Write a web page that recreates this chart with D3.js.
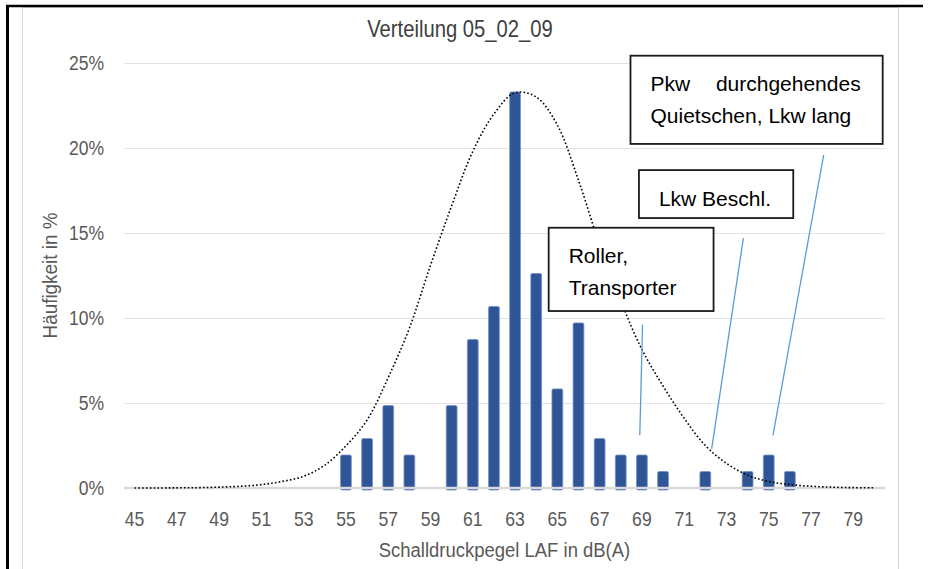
<!DOCTYPE html>
<html>
<head>
<meta charset="utf-8">
<script src="https://cdn.jsdelivr.net/npm/d3@7"></script>
<style>
  html, body { margin: 0; padding: 0; background: #fff; }
  svg { display: block; }
</style>
</head>
<body>
<svg id="chart" width="928" height="569"></svg>
<script>
// ---- DATA ----
const categories = d3.range(45, 81);            // 45 .. 80 dB(A)
const barLevels  = [55, 56, 57, 58, 60, 61, 62, 63, 64, 65, 66, 67, 68, 69, 70, 72, 74, 75, 76];
const barValues  = [1.94, 2.91, 4.85, 1.94, 4.85, 8.74, 10.68, 23.30, 12.62, 5.83, 9.71, 2.91, 1.94, 1.94, 0.97, 0.97, 0.97, 1.94, 0.97];
const curveLevels = d3.range(45, 81);
const curveValues = [0.0, 0.0, 0.01, 0.02, 0.05, 0.1, 0.2, 0.39, 0.69, 1.35, 2.48, 4.0, 6.5, 9.4, 13.1, 16.6, 19.8, 22.0, 23.25, 23.0, 21.35, 18.1, 14.3, 11.0, 8.15, 6.0, 4.1, 2.5, 1.45, 0.76, 0.38, 0.2, 0.1, 0.05, 0.02, 0.01];
const xTickLabels = [45, 47, 49, 51, 53, 55, 57, 59, 61, 63, 65, 67, 69, 71, 73, 75, 77, 79];
const yTickValues = [0, 5, 10, 15, 20, 25];
const titleText = "Verteilung 05_02_09";
const xTitle = "Schalldruckpegel LAF in dB(A)";
const yTitle = "Häufigkeit in %";
// annotation texts with anchors in data units (level, percent)
const noteTexts   = [["Pkw", "durchgehendes", "Quietschen, Lkw lang"], ["Lkw Beschl."], ["Roller,", "Transporter"]];
const noteBoxes   = [[68.46, 25.43, 80.39, 20.24], [68.86, 18.7, 76.16, 15.88], [64.59, 15.31, 72.39, 10.41]];
const noteLeaders = [[[77.6, 19.6], [75.2, 3.1]], [[73.8, 14.7], [72.3, 2.3]], [[69.03, 9.6], [68.9, 3.1]]];

// ---- LAYOUT ----
const W = 928, H = 569;
const pLeft = 124, pRight = 885, pTop = 63, pBottom = 488;
const svg = d3.select("#chart");
const axisFont = "'Liberation Sans', Arial, sans-serif";
const noteFont = "'Liberation Sans', Arial, sans-serif";

const x = d3.scaleBand().domain(categories).range([pLeft, pRight]).paddingInner(0.49).paddingOuter(0.245);
const xl = d3.scaleLinear().domain([44.5, 80.5]).range([pLeft, pRight]);   // continuous level position
const y = d3.scaleLinear().domain([0, 25]).range([pBottom, pTop]);

// frame
svg.append("rect").attr("x", 22.5).attr("y", 7.5).attr("width", 876).attr("height", 580)
  .attr("fill", "#fff").attr("stroke", "#d9d9d9").attr("stroke-width", 1);
svg.append("line").attr("x1", 6).attr("x2", 923).attr("y1", 6).attr("y2", 6)
  .attr("stroke", "#000").attr("stroke-width", 2.5);
svg.append("line").attr("x1", 7.5).attr("x2", 7.5).attr("y1", 5).attr("y2", H)
  .attr("stroke", "#000").attr("stroke-width", 3);

// gridlines
svg.append("g").selectAll("line").data(yTickValues.filter(d => d > 0)).join("line")
  .attr("x1", pLeft).attr("x2", pRight)
  .attr("y1", d => Math.round(y(d)) + 0.5).attr("y2", d => Math.round(y(d)) + 0.5)
  .attr("stroke", "#e3e3e3").attr("stroke-width", 1);

// helper: text style (the reference uses a narrow face, emulated with a horizontal squeeze)
function label(sel, size) {
  return sel.attr("font-family", axisFont).attr("font-size", size)
    .attr("fill", "#595959");
}

// y tick labels
svg.append("g").selectAll("text").data(yTickValues).join("text")
  .attr("transform", d => `translate(104,${y(d)}) scale(0.9,1)`)
  .attr("dy", "0.36em").attr("text-anchor", "end")
  .call(label, 19.5).text(d => d + "%");

// bars
const barData = barLevels.map((l, i) => ({ l, v: barValues[i] }));
svg.append("g").selectAll("rect").data(barData).join("rect")
  .attr("x", d => x(d.l)).attr("width", x.bandwidth())
  .attr("y", d => y(d.v)).attr("height", d => y(0) + 2 - y(d.v))
  .attr("rx", 1.5)
  .attr("fill", "#2F5597").attr("stroke", "#7391c9").attr("stroke-width", 0.8);

// x axis line
svg.append("line").attr("x1", pLeft).attr("x2", pRight).attr("y1", y(0)).attr("y2", y(0))
  .attr("stroke", "#d9d9d9").attr("stroke-width", 2.5);

// curve
const curveData = curveLevels.map((l, i) => [x(l) + x.bandwidth() / 2, y(curveValues[i])]);
svg.append("path").attr("d", d3.line().curve(d3.curveCatmullRom.alpha(0.5))(curveData))
  .attr("fill", "none").attr("stroke", "#000").attr("stroke-width", 1.6)
  .attr("stroke-dasharray", "1.6 2.2");

// x tick labels
svg.append("g").selectAll("text").data(xTickLabels).join("text")
  .attr("transform", d => `translate(${x(d) + x.bandwidth() / 2},526) scale(0.88,1)`)
  .attr("text-anchor", "middle")
  .call(label, 20).text(d => d);

// axis titles
svg.append("text").attr("transform", `translate(${(pLeft + pRight) / 2},557) scale(0.88,1)`)
  .attr("text-anchor", "middle").call(label, 21).text(xTitle);
svg.append("text").attr("transform", `translate(57,${(pTop + pBottom) / 2}) rotate(-90) scale(0.9,1)`)
  .attr("text-anchor", "middle").call(label, 21).text(yTitle);
svg.append("text").attr("transform", "translate(460,37) scale(0.88,1)").attr("text-anchor", "middle")
  .call(label, 23).attr("fill", "#404040").text(titleText);

// annotations
noteLeaders.forEach(seg => {
  svg.append("line")
    .attr("x1", xl(seg[0][0])).attr("y1", y(seg[0][1]))
    .attr("x2", xl(seg[1][0])).attr("y2", y(seg[1][1]))
    .attr("stroke", "#5B9BD5").attr("stroke-width", 1.3);
});
noteBoxes.forEach((b, i) => {
  const x0 = xl(b[0]), y0 = y(b[1]), x1 = xl(b[2]), y1 = y(b[3]);
  const g = svg.append("g");
  g.append("rect").attr("x", x0).attr("y", y0).attr("width", x1 - x0).attr("height", y1 - y0)
    .attr("fill", "#fff").attr("stroke", "#1a1a1a").attr("stroke-width", 1.8);
  const t = noteTexts[i];
  const tx = x0 + 20, ty = y0 + 35.5, lh = 32;
  const txt = (s, xx, yy, anchor) => g.append("text").attr("x", xx).attr("y", yy)
    .attr("text-anchor", anchor).attr("font-family", noteFont).attr("font-size", 21)
    .attr("fill", "#000").text(s);
  if (i === 0) {
    txt(t[0], tx, ty, "start");
    txt(t[1], x1 - 22, ty, "end");
    txt(t[2], tx, ty + lh, "start");
  } else {
    t.forEach((s, k) => txt(s, tx, ty + k * lh, "start"));
  }
});
</script>
</body>
</html>
